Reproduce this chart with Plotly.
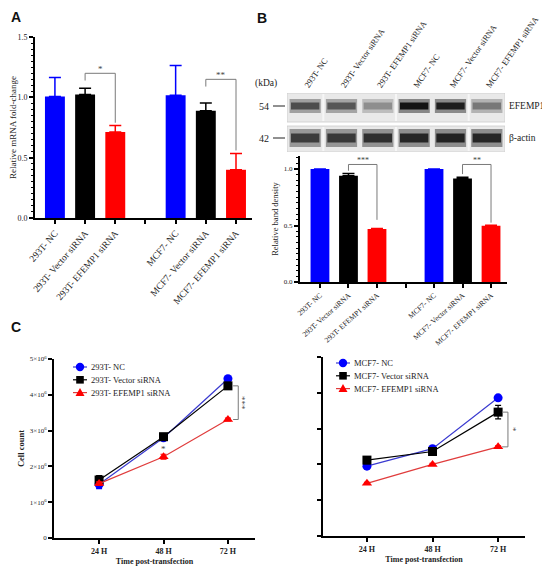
import plotly.graph_objects as go

W, H = 550, 571
SHIFT = 8  # page body margin offset
SERIF = "Liberation Serif"
SANS = "Liberation Sans"
BLUE, BLACK, RED = "#0000ff", "#000000", "#ff0000"
GRAY = "#7a7a7a"

# ---- Panel A: relative mRNA fold-change ----
a_labels = ["293T- NC", "293T- Vector siRNA", "293T- EFEMP1 siRNA", "",
            "MCF7- NC", "MCF7- Vector siRNA", "MCF7- EFEMP1 siRNA"]
a_nc = [1.008, 1.017]
a_nc_err = [0.158, 0.248]
a_vec = [1.025, 0.89]
a_vec_err = [0.052, 0.063]
a_ef = [0.713, 0.40]
a_ef_err = [0.055, 0.135]
# brackets: x0, x1, left leg bottom, top, right leg bottom, label
a_sig = [(1, 2, 1.14, 1.20, 0.79, "*"), (5, 6, 1.09, 1.15, 0.56, "**")]

# ---- Panel B: western blot + band density ----
lanes = ["293T- NC", "293T- Vector siRNA", "293T- EFEMP1 siRNA",
         "MCF7- NC", "MCF7- Vector siRNA", "MCF7- EFEMP1 siRNA"]
efemp1_band = [0.70, 0.66, 0.40, 0.97, 0.92, 0.50]
actin_band = [0.78, 0.80, 0.84, 0.88, 0.90, 0.88]
b_nc = [1.0, 1.0]
b_nc_err = [0.0, 0.0]
b_vec = [0.94, 0.915]
b_vec_err = [0.02, 0.012]
b_ef = [0.469, 0.497]
b_ef_err = [0.005, 0.006]
b_sig = [(1, 2, 0.985, 1.04, 0.55, "***"), (5, 6, 0.955, 1.04, 0.525, "**")]

# ---- Panel C: cell counts ----
times = ["24 H", "48 H", "72 H"]
c293_nc = [1.50e6, 2.80e6, 4.45e6]
c293_nc_err = [0.12e6, 0.05e6, 0.05e6]
c293_vec = [1.62e6, 2.83e6, 4.25e6]
c293_vec_err = [0.12e6, 0.05e6, 0.06e6]
c293_ef = [1.52e6, 2.27e6, 3.31e6]
c293_ef_err = [0.05e6, 0.07e6, 0.04e6]
cmcf_nc = [1.95e6, 2.44e6, 3.86e6]
cmcf_nc_err = [0.04e6, 0.04e6, 0.04e6]
cmcf_vec = [2.12e6, 2.36e6, 3.46e6]
cmcf_vec_err = [0.10e6, 0.04e6, 0.19e6]
cmcf_ef = [1.47e6, 2.00e6, 2.49e6]
cmcf_ef_err = [0.03e6, 0.03e6, 0.03e6]
c_ticks = [0, 1e6, 2e6, 3e6, 4e6, 5e6]
c_ticktext = ["0"] + [f"{i}×10<sup>6</sup>" for i in range(1, 6)]


def px_x(p):
    return (p - SHIFT) / W


def px_y(p):
    return 1 - (p - SHIFT) / H


fig = go.Figure()


def bar_group(xs, ys, errs, color, xa, ya):
    fig.add_trace(go.Bar(
        x=xs, y=ys, width=0.66, marker=dict(color=color, line=dict(width=0)),
        error_y=dict(type="data", array=errs, symmetric=False,
                     arrayminus=[0] * len(errs), color=color, thickness=1.5, width=6),
        xaxis=xa, yaxis=ya, showlegend=False, hoverinfo="skip"))


# panel A bars
bar_group([0, 4], a_nc, a_nc_err, BLUE, "x", "y")
bar_group([1, 5], a_vec, a_vec_err, BLACK, "x", "y")
bar_group([2, 6], a_ef, a_ef_err, RED, "x", "y")

# panel B bars
bar_group([0, 4], b_nc, b_nc_err, BLUE, "x2", "y2")
bar_group([1, 5], b_vec, b_vec_err, BLACK, "x2", "y2")
bar_group([2, 6], b_ef, b_ef_err, RED, "x2", "y2")


# blot bands (soft halo + core)
def gray(v, base=228, span=215):
    g = int(base - v * span)
    return f"rgb({g},{g},{g})"


lane_x = [i + 0.5 for i in range(len(lanes))]
for vals, yc, hh in [(efemp1_band, 46, 7), (actin_band, 14, 9)]:
    fig.add_trace(go.Bar(x=lane_x, y=[hh * 2.0] * 6, base=[yc - hh] * 6, width=0.86,
                         marker=dict(color=[gray(v * 0.45) for v in vals], line=dict(width=0)),
                         xaxis="x3", yaxis="y3", showlegend=False, hoverinfo="skip"))
    fig.add_trace(go.Bar(x=lane_x, y=[hh] * 6, base=[yc - hh / 2] * 6, width=0.78,
                         marker=dict(color=[gray(v) for v in vals], line=dict(width=0)),
                         xaxis="x3", yaxis="y3", showlegend=False, hoverinfo="skip"))


# panel C growth curves
def growth(ys, errs, color, line_color, symbol, xa, ya):
    fig.add_trace(go.Scatter(
        x=[0, 1, 2], y=ys, mode="lines+markers",
        line=dict(color=line_color, width=1.2),
        marker=dict(color=color, symbol=symbol, size=9),
        error_y=dict(type="data", array=errs, color=color, thickness=1.2, width=3),
        xaxis=xa, yaxis=ya, showlegend=False, hoverinfo="skip"))


series_293 = [("293T- NC", c293_nc, c293_nc_err, BLUE, "#3a3ad0", "circle"),
              ("293T- Vector siRNA", c293_vec, c293_vec_err, BLACK, BLACK, "square"),
              ("293T- EFEMP1 siRNA", c293_ef, c293_ef_err, RED, "#e03c3c", "triangle-up")]
series_mcf = [("MCF7- NC", cmcf_nc, cmcf_nc_err, BLUE, "#3a3ad0", "circle"),
              ("MCF7- Vector siRNA", cmcf_vec, cmcf_vec_err, BLACK, BLACK, "square"),
              ("MCF7- EFEMP1 siRNA", cmcf_ef, cmcf_ef_err, RED, "#e03c3c", "triangle-up")]
for name, ys, es, col, lcol, sym in series_293:
    growth(ys, es, col, lcol, sym, "x4", "y4")
for name, ys, es, col, lcol, sym in series_mcf:
    growth(ys, es, col, lcol, sym, "x5", "y5")

shapes = []
annotations = []

# compact legends for panel C (key glyph + label)
for series, kx, ky0 in [(series_293, 80, 367), (series_mcf, 343, 363)]:
    for i, (name, ys, es, col, lcol, sym) in enumerate(series):
        yy = ky0 + i * 12.8
        shapes.append(dict(type="line", xref="paper", yref="paper",
                           x0=px_x(kx - 7), x1=px_x(kx + 7), y0=px_y(yy), y1=px_y(yy),
                           line=dict(color=lcol, width=1.2)))
        r = 4.2
        if sym == "circle":
            shapes.append(dict(type="circle", xref="paper", yref="paper",
                               x0=px_x(kx - r), x1=px_x(kx + r), y0=px_y(yy + r), y1=px_y(yy - r),
                               fillcolor=col, line=dict(width=0)))
        elif sym == "square":
            shapes.append(dict(type="rect", xref="paper", yref="paper",
                               x0=px_x(kx - 3.8), x1=px_x(kx + 3.8), y0=px_y(yy + 3.8), y1=px_y(yy - 3.8),
                               fillcolor=col, line=dict(width=0)))
        else:
            shapes.append(dict(type="path", xref="paper", yref="paper",
                               path=(f"M {px_x(kx - 4.5)},{px_y(yy + 3.5)} L {px_x(kx + 4.5)},{px_y(yy + 3.5)} "
                                     f"L {px_x(kx)},{px_y(yy - 4.5)} Z"),
                               fillcolor=col, line=dict(width=0)))
        annotations.append(dict(x=px_x(kx + 9), y=px_y(yy), xref="paper", yref="paper", text=name,
                                xanchor="left", yanchor="middle", showarrow=False,
                                font=dict(family=SERIF, size=8.5, color="#222")))

# significance brackets for bar panels
for sig, xr, yr, fs in [(a_sig, "x", "y", 9), (b_sig, "x2", "y2", 8)]:
    for x0, x1, yl, yt, yrt, txt in sig:
        shapes.append(dict(type="path", xref=xr, yref=yr,
                           path=f"M {x0},{yl} L {x0},{yt} L {x1},{yt} L {x1},{yrt}",
                           line=dict(color=GRAY, width=1)))
        annotations.append(dict(x=(x0 + x1) / 2, y=yt, xref=xr, yref=yr, text=txt,
                                showarrow=False, yanchor="bottom", yshift=-3,
                                font=dict(family=SERIF, size=fs, color="#444")))

# significance brackets for growth panels
for xr, yr, x0, x1, ya, yb, txt, tx in [
        ("x4", "y4", 2.08, 2.16, c293_vec[2], c293_ef[2], "***", 2.23),
        ("x5", "y5", 2.06, 2.15, cmcf_vec[2], cmcf_ef[2], "*", 2.22)]:
    shapes.append(dict(type="path", xref=xr, yref=yr,
                       path=f"M {x0},{ya} L {x1},{ya} L {x1},{yb} L {x0},{yb}",
                       line=dict(color=GRAY, width=1)))
    annotations.append(dict(x=tx, y=(ya + yb) / 2, xref=xr, yref=yr, text=txt, textangle=90,
                            showarrow=False, font=dict(family=SERIF, size=9, color="#444")))
annotations.append(dict(x=1, y=c293_ef[1] + c293_ef_err[1], xref="x4", yref="y4", text="*",
                        showarrow=False, yanchor="bottom", yshift=-2,
                        font=dict(family=SERIF, size=9, color="#444")))

# blot boxes
for y0, y1 in [(30, 59), (0, 26)]:
    shapes.append(dict(type="rect", xref="x3", yref="y3", x0=0, x1=6, y0=y0, y1=y1,
                       fillcolor="#e9e9e9", line=dict(color="#cccccc", width=0.8), layer="below"))
for xb in [1, 3, 5]:
    for y0, y1 in [(30, 59), (0, 26)]:
        shapes.append(dict(type="line", xref="x3", yref="y3", x0=xb, x1=xb, y0=y0 + 1, y1=y1 - 1,
                           line=dict(color="#f6f6f6", width=2)))

# blot labels
for txt, yc in [("54", 46), ("42", 14)]:
    annotations.append(dict(x=px_x(271), y=yc, xref="paper", yref="y3", text=txt,
                            xanchor="right", yanchor="middle", showarrow=False,
                            font=dict(family=SERIF, size=10, color="#222")))
    shapes.append(dict(type="line", xref="paper", yref="y3", x0=px_x(273), x1=px_x(285),
                       y0=yc, y1=yc, line=dict(color="#222", width=1)))
for txt, yc in [("EFEMP1", 46), ("β-actin", 14)]:
    annotations.append(dict(x=px_x(507), y=yc, xref="paper", yref="y3", text=txt,
                            xanchor="left", yanchor="middle", showarrow=False,
                            font=dict(family=SERIF, size=9.5, color="#222")))
annotations.append(dict(x=px_x(266), y=px_y(83), xref="paper", yref="paper", text="(kDa)",
                        xanchor="center", yanchor="middle", showarrow=False,
                        font=dict(family=SERIF, size=9.5, color="#222")))

# panel letters
for txt, xx, yy in [("A", 16, 17), ("B", 262, 18), ("C", 16, 327)]:
    annotations.append(dict(x=px_x(xx), y=px_y(yy), xref="paper", yref="paper", text=f"<b>{txt}</b>",
                            xanchor="center", yanchor="middle", showarrow=False,
                            font=dict(family=SANS, size=14, color="#111")))

axis_common = dict(showgrid=False, zeroline=False, showline=True, linecolor="black",
                   ticks="outside", tickcolor="black", automargin=False)

fig.update_layout(
    width=W, height=H, margin=dict(l=0, r=0, t=0, b=0, autoexpand=False),
    paper_bgcolor="white", plot_bgcolor="white", barmode="overlay",
    shapes=shapes, annotations=annotations,
    xaxis=dict(axis_common, domain=[px_x(35), px_x(252)], range=[-0.66, 6.53],
               tickvals=list(range(7)), ticktext=a_labels, tickangle=-49,
               tickfont=dict(family=SERIF, size=9.5, color="#222"),
               linewidth=2, tickwidth=1.5, ticklen=4, anchor="y"),
    yaxis=dict(axis_common, domain=[px_y(218), px_y(37)], range=[0, 1.501],
               tickvals=[0, 0.5, 1.0, 1.5], ticktext=["0.0", "0.5", "1.0", "1.5"],
               tickfont=dict(family=SERIF, size=8, color="#222"),
               linewidth=2, tickwidth=1.5, ticklen=4, anchor="x",
               minor=dict(dtick=0.05, ticks="outside", ticklen=2, tickcolor="black", tickwidth=1),
               title=dict(text="Relative mRNA fold-change", standoff=5,
                          font=dict(family=SERIF, size=9, color="#222"))),
    xaxis2=dict(axis_common, domain=[px_x(300), px_x(507)], range=[-0.70, 6.56],
                tickvals=list(range(7)), ticktext=a_labels, tickangle=-42,
                tickfont=dict(family=SERIF, size=7.5, color="#222"),
                linewidth=2, tickwidth=1.5, ticklen=4, anchor="y2"),
    yaxis2=dict(axis_common, domain=[px_y(282), px_y(156)], range=[0, 1.115],
                tickvals=[0, 0.5, 1.0], ticktext=["0.0", "0.5", "1.0"],
                tickfont=dict(family=SERIF, size=7, color="#222"),
                linewidth=2, tickwidth=1.5, ticklen=4, anchor="x2",
                minor=dict(dtick=0.05, ticks="outside", ticklen=2, tickcolor="black", tickwidth=1),
                title=dict(text="Relative band density", standoff=4,
                           font=dict(family=SERIF, size=8.5, color="#222"))),
    xaxis3=dict(domain=[px_x(287), px_x(505)], range=[0, 6], side="top", anchor="y3",
                showgrid=False, zeroline=False, showline=False, ticks="", automargin=False,
                tickvals=lane_x, ticktext=lanes, tickangle=-55,
                tickfont=dict(family=SERIF, size=8.5, color="#222")),
    yaxis3=dict(domain=[px_y(152), px_y(93)], range=[0, 59], anchor="x3",
                visible=False, automargin=False),
    xaxis4=dict(axis_common, domain=[px_x(54), px_x(255)], range=[-0.7, 2.42],
                tickvals=[0, 1, 2], ticktext=[f"<b>{t}</b>" for t in times],
                tickfont=dict(family=SERIF, size=8, color="#222"),
                linewidth=1.8, tickwidth=1.5, ticklen=4, anchor="y4",
                title=dict(text="<b>Time post-transfection</b>", standoff=4,
                           font=dict(family=SERIF, size=8, color="#222"))),
    yaxis4=dict(axis_common, domain=[px_y(538), px_y(359)], range=[0, 5e6],
                tickvals=c_ticks, ticktext=c_ticktext,
                tickfont=dict(family=SERIF, size=7, color="#222"),
                linewidth=1.8, tickwidth=1.5, ticklen=4, anchor="x4",
                title=dict(text="<b>Cell count</b>", standoff=4,
                           font=dict(family=SERIF, size=8.5, color="#222"))),
    xaxis5=dict(axis_common, domain=[px_x(323), px_x(525)], range=[-0.67, 2.41],
                tickvals=[0, 1, 2], ticktext=[f"<b>{t}</b>" for t in times],
                tickfont=dict(family=SERIF, size=8, color="#222"),
                linewidth=1.8, tickwidth=1.5, ticklen=4, anchor="y5",
                title=dict(text="<b>Time post-transfection</b>", standoff=4,
                           font=dict(family=SERIF, size=8, color="#222"))),
    yaxis5=dict(axis_common, domain=[px_y(536), px_y(357)], range=[0, 5e6],
                tickvals=c_ticks, showticklabels=False,
                linewidth=1.8, tickwidth=1.5, ticklen=4, anchor="x5"),
)

fig.write_html("out.html")
